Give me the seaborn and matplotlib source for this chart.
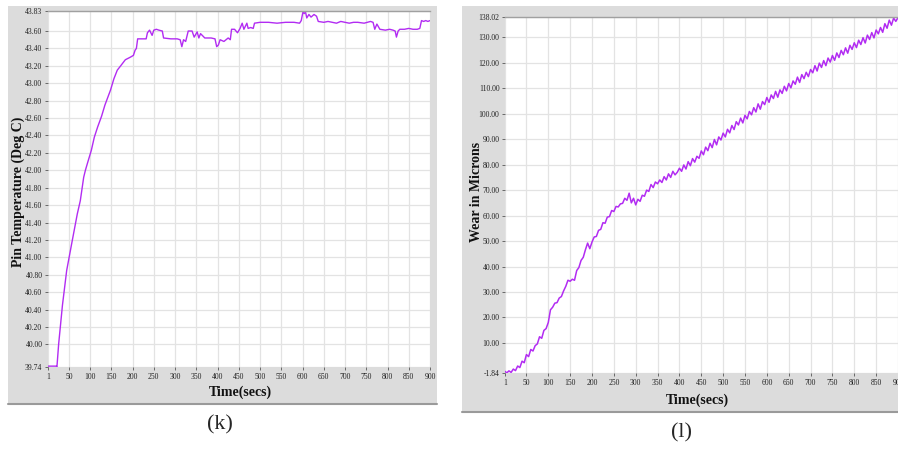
import numpy as np
import seaborn as sns
import matplotlib.pyplot as plt
from matplotlib.patches import Rectangle

# ---- data ----
# (k) pin temperature, breakpoints of the stepped trace
temp_t = [1, 20, 22, 26, 35, 45, 58, 70, 77, 85, 89, 95, 103, 110, 118, 127, 135, 148,
          156, 164, 172, 183, 195, 202, 206, 209, 212, 232, 235, 240, 246, 250, 256, 262,
          270, 273, 290, 305, 312, 316, 320, 325, 331, 340, 345, 352, 356, 360, 370, 385,
          394, 398, 402, 406, 415, 425, 430, 433, 440, 447, 453, 458, 462, 469, 472, 478,
          484, 487, 500, 520, 540, 560, 580, 593, 597, 601, 604, 607, 610, 615, 620, 627,
          633, 637, 650, 660, 670, 680, 690, 700, 710, 720, 730, 745, 760, 766, 770, 775,
          782, 795, 805, 813, 818, 821, 825, 829, 840, 850, 860, 870, 876, 880, 885, 890,
          895, 900]
temp_val = [39.75, 39.75, 39.74, 40.00, 40.45, 40.85, 41.19, 41.50, 41.65, 41.92, 42.00,
            42.10, 42.23, 42.38, 42.50, 42.62, 42.75, 42.92, 43.05, 43.15, 43.20, 43.27,
            43.30, 43.32, 43.38, 43.40, 43.51, 43.51, 43.58, 43.61, 43.55, 43.61, 43.62,
            43.61, 43.60, 43.52, 43.51, 43.51, 43.50, 43.42, 43.50, 43.48, 43.60, 43.60,
            43.53, 43.59, 43.52, 43.57, 43.52, 43.52, 43.51, 43.42, 43.44, 43.50, 43.48,
            43.52, 43.50, 43.62, 43.62, 43.58, 43.63, 43.69, 43.62, 43.69, 43.63, 43.64,
            43.63, 43.69, 43.70, 43.70, 43.69, 43.70, 43.70, 43.69, 43.72, 43.82, 43.80,
            43.82, 43.75, 43.79, 43.76, 43.79, 43.77, 43.71, 43.70, 43.71, 43.70, 43.69,
            43.71, 43.70, 43.69, 43.70, 43.70, 43.69, 43.71, 43.70, 43.62, 43.68, 43.62,
            43.61, 43.62, 43.61, 43.60, 43.53, 43.60, 43.62, 43.62, 43.63, 43.62, 43.62,
            43.63, 43.72, 43.71, 43.72, 43.71, 43.72]
temp_ticks = [39.74, 40.0, 40.2, 40.4, 40.6, 40.8, 41.0, 41.2, 41.4, 41.6, 41.8, 42.0,
              42.2, 42.4, 42.6, 42.8, 43.0, 43.2, 43.4, 43.6, 43.83]

# (l) wear, sampled every 5 s
wear_val = [-1.2, -1.8, -1.0, -1.6, -0.3, -0.9, 0.9, 0.3, 2.8, 2.2,
            5.4, 4.6, 7.4, 6.8, 8.9, 9.6, 12.4, 11.8, 14.9, 15.6,
            18.0, 23.0, 24.0, 25.6, 25.8, 27.6, 28.2, 30.4, 32.2, 34.6,
            34.2, 35.0, 34.6, 38.4, 39.6, 42.4, 43.6, 46.6, 49.2, 47.0,
            49.6, 51.6, 51.8, 54.2, 54.6, 57.2, 57.0, 59.4, 59.6, 62.0,
            61.6, 63.6, 63.4, 64.6, 64.8, 66.8, 66.0, 68.8, 65.0, 66.8,
            64.2, 66.4, 65.6, 68.0, 67.6, 70.0, 69.5, 72.2, 71.0, 73.2,
            72.5, 74.0, 73.0, 75.3, 74.0, 76.4, 75.0, 77.4, 76.0, 77.0,
            78.6, 77.4, 79.9, 78.3, 81.2, 79.6, 82.4, 81.0, 83.3, 82.5,
            85.4, 83.9, 86.9, 85.5, 88.4, 86.7, 89.9, 87.8, 90.9, 89.7,
            92.4, 90.9, 93.9, 92.5, 95.4, 93.8, 96.9, 95.6, 98.3, 96.4,
            99.4, 98.0, 100.9, 99.6, 102.4, 100.7, 103.9, 101.8, 104.8, 103.6,
            106.4, 104.5, 107.4, 106.0, 108.8, 106.5, 109.4, 108.0, 110.8, 109.0,
            111.9, 110.2, 112.9, 111.6, 114.4, 112.3, 115.4, 113.8, 116.3, 114.6,
            117.4, 116.1, 118.9, 116.8, 119.9, 118.2, 120.9, 118.9, 121.9, 120.3,
            122.9, 121.0, 123.9, 122.1, 124.9, 123.2, 125.9, 123.8, 126.9, 125.3,
            127.9, 126.0, 128.9, 127.2, 129.9, 127.8, 130.9, 129.2, 131.9, 129.8,
            132.9, 131.4, 133.9, 132.0, 135.4, 133.6, 136.8, 134.8, 137.6, 136.3,
            137.8]
wear_t = [1] + list(range(5, 5 * len(wear_val), 5))
wear_ticks = [-1.84, 10, 20, 30, 40, 50, 60, 70, 80, 90, 100, 110, 120, 130, 138.02]

time_ticks = [1] + list(range(50, 901, 50))

# ---- style ----
sns.set_style('whitegrid')
plt.rcParams['font.family'] = ['Liberation Serif', 'DejaVu Serif']

W, H = 898, 449
fig = plt.figure(figsize=(W / 100, H / 100), dpi=100)
line_col = '#b22cf2'
frame_col = '#dcdcdc'


def px_box(x0, y0, x1, y1):
    # pixel box (top-left origin) -> figure fraction [left, bottom, w, h]
    return [x0 / W, (H - y1) / H, (x1 - x0) / W, (y1 - y0) / H]


def add_frame(x0, y0, x1, y1):
    l, b, w, h = px_box(x0, y0, x1, y1)
    fig.patches.append(Rectangle((l, b), w, h, transform=fig.transFigure,
                                 facecolor=frame_col, edgecolor='none', zorder=-10))
    fig.add_artist(plt.Line2D([l, l + w], [b, b], transform=fig.transFigure,
                              color='#9a9a9a', lw=1.5, zorder=-9))


def setup_ax(ax, yticks, ylim):
    ax.set_xlim(1, 900)
    ax.set_ylim(*ylim)
    ax.set_xticks(time_ticks)
    ax.set_xticklabels([str(t) for t in time_ticks], fontsize=5.5)
    ax.set_yticks(yticks)
    ax.set_yticklabels([f'{v:.2f}' for v in yticks], fontsize=5.5)
    ax.tick_params(axis='both', length=2.5, width=0.6, pad=1.5, color='#555555',
                   labelcolor='#222222', left=True, bottom=True)
    ax.grid(True, color='#e3e3e3', lw=0.9)
    for s in ['top', 'right', 'left', 'bottom']:
        ax.spines[s].set_visible(False)
    ax.spines['top'].set_visible(True)
    ax.spines['top'].set_color('#a0a0a0')
    ax.spines['top'].set_linewidth(1.0)
    ax.set_xlabel('')
    ax.set_ylabel('')


# left panel (k)
add_frame(8, 6, 437, 404)
ax1 = fig.add_axes(px_box(48, 11, 430, 367))
sns.lineplot(x=temp_t, y=temp_val, ax=ax1, color=line_col, lw=1.0)
setup_ax(ax1, temp_ticks, (temp_ticks[0], temp_ticks[-1]))

# right panel (l)
add_frame(462, 6, 898, 412)
ax2 = fig.add_axes(px_box(505, 17, 898, 373))
sns.lineplot(x=wear_t, y=wear_val, ax=ax2, color=line_col, lw=1.1)
setup_ax(ax2, wear_ticks, (wear_ticks[0], wear_ticks[-1]))

lab = dict(fontsize=10, fontweight='bold', color='#111111')
fig.text(18 / W, 1 - 192 / H, 'Pin Temperature (Deg C)', rotation=90,
         ha='center', va='center', **lab)
fig.text(240 / W, 1 - 392 / H, 'Time(secs)', ha='center', va='center', **lab)
fig.text(476 / W, 1 - 192 / H, 'Wear in Microns', rotation=90,
         ha='center', va='center', **lab)
fig.text(697 / W, 1 - 400 / H, 'Time(secs)', ha='center', va='center', **lab)

fig.text(220 / W, 1 - 425 / H, '(k)', ha='center', va='center', fontsize=16)
fig.text(682 / W, 1 - 433 / H, '(l)', ha='center', va='center', fontsize=16)

fig.savefig('out.png', dpi=100, facecolor='white')
